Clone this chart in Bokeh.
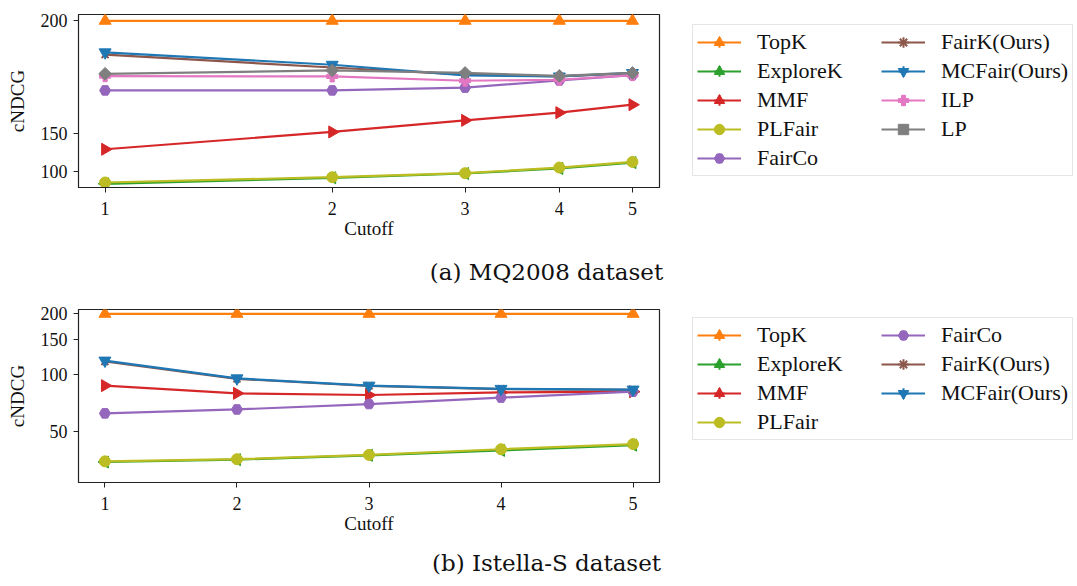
import numpy as np
from bokeh.plotting import figure
from bokeh.models import (Range1d, FixedTicker, CustomJSTickFormatter, PrintfTickFormatter,
                          Legend, LegendItem, Label)
from bokeh.layouts import column, row
from bokeh.embed import file_html
from bokeh.resources import INLINE

# ---------------- data ----------------
cutoffs = [1, 2, 3, 4, 5]

# (a) MQ2008
mq_names = ["TopK", "ExploreK", "MMF", "PLFair", "FairCo", "FairK(Ours)", "MCFair(Ours)", "ILP", "LP"]
mq_topk = [200, 200, 200, 200, 200]
mq_explorek = [77.0, 89.0, 97.0, 105.7, 115.0]
mq_mmf = [133.1, 151.6, 161.4, 167.0, 172.1]
mq_plfair = [79.7, 90.2, 97.6, 107.2, 116.0]
mq_fairco = [179.8, 179.8, 181.1, 184.2, 186.3]
mq_fairk = [192.9, 189.0, 186.5, 185.8, 187.0]
mq_mcfair = [193.5, 189.9, 186.2, 185.8, 187.1]
mq_ilp = [185.9, 185.8, 184.1, 184.5, 186.3]
mq_lp = [186.8, 188.0, 187.1, 186.0, 187.1]
mq_yticks = [100, 150, 200]

# (b) Istella-S
is_names = ["TopK", "ExploreK", "MMF", "PLFair", "FairCo", "FairK(Ours)", "MCFair(Ours)"]
is_topk = [200, 200, 200, 200, 200]
is_explorek = [33.3, 34.4, 36.5, 39.0, 41.8]
is_mmf = [87.7, 80.0, 78.4, 80.9, 81.6]
is_plfair = [33.6, 34.6, 36.7, 39.6, 42.4]
is_fairco = [62.7, 65.8, 70.3, 76.0, 81.6]
is_fairk = [116.5, 95.0, 87.5, 84.2, 83.3]
is_mcfair = [117.6, 95.6, 87.7, 84.4, 83.7]
is_yticks = [50, 100, 150, 200]

captions = ["(a) MQ2008 dataset", "(b) Istella-S dataset"]

# ---------------- styles ----------------
STYLE = {
    "TopK": ("#ff7f0e", "triangle", 0.0, 12),
    "ExploreK": ("#2ca02c", "triangle", np.pi / 2, 12),
    "MMF": ("#d62728", "triangle", -np.pi / 2, 12),
    "PLFair": ("#bcbd22", "circle", 0.0, 11),
    "FairCo": ("#9467bd", "hex", 0.0, 11),
    "FairK(Ours)": ("#8c564b", "x", 0.0, 10),
    "MCFair(Ours)": ("#1f77b4", "inverted_triangle", 0.0, 12),
    "ILP": ("#e377c2", "plus", 0.0, 11),
    "LP": ("#7f7f7f", "square", np.pi / 4, 9),
}

SERIF = "Liberation Serif"
W = 1077
MAIN_W = 680
LEG_W = W - MAIN_W
FRAME_L, FRAME_R = 78, 659
FRAME_H = 173


def draw_series(fig, name, vals, fwd, errbar=False):
    color, marker, angle, size = STYLE[name]
    ty = fwd(vals)
    rs = [fig.line(cutoffs, ty, line_color=color, line_width=2.2)]
    if errbar:
        rs.append(fig.scatter(cutoffs, ty, marker="cross", size=22, line_color=color,
                              line_width=2))
    if marker == "x":
        rs.append(fig.scatter(cutoffs, ty, marker=marker, size=size, angle=angle,
                              line_color=color, line_width=2))
    else:
        rs.append(fig.scatter(cutoffs, ty, marker=marker, size=size, angle=angle,
                              fill_color=color, line_color=color, line_width=1))
    return rs


def make_panel(names, values, fwd, js_inv, yticks, ylims, xlog, xlims,
               height, top, legend_loc, padding):
    yr = Range1d(float(fwd(ylims[0])), float(fwd(ylims[1])))
    p = figure(width=MAIN_W, height=height, x_axis_type="log" if xlog else "linear",
               x_range=Range1d(*xlims), y_range=yr,
               output_backend="svg", toolbar_location=None,
               min_border_left=FRAME_L, min_border_right=MAIN_W - FRAME_R,
               min_border_top=top, min_border_bottom=height - top - FRAME_H)
    p.grid.visible = False
    p.outline_line_color = "#222222"
    p.outline_line_alpha = 1
    p.outline_line_width = 1.2

    for ax in (p.xaxis, p.yaxis):
        ax.axis_line_color = "#222222"
        ax.major_tick_line_color = "#222222"
        ax.major_tick_out = 5
        ax.major_tick_in = 0
        ax.minor_tick_out = 0
        ax.minor_tick_in = 0
        ax.major_label_text_font = SERIF
        ax.major_label_text_font_size = "18px"
        ax.major_label_text_color = "#111111"
        ax.axis_label_text_font = SERIF
        ax.axis_label_text_font_size = "19px"
        ax.axis_label_text_font_style = "normal"
        ax.axis_label_text_color = "#111111"

    p.xaxis.ticker = FixedTicker(ticks=cutoffs, minor_ticks=[])
    p.xaxis.formatter = PrintfTickFormatter(format="%d")
    p.xaxis.axis_label = "Cutoff"
    p.xaxis.major_label_standoff = 9
    p.xaxis.axis_label_standoff = 0

    p.yaxis.ticker = FixedTicker(ticks=[float(fwd(t)) for t in yticks], minor_ticks=[])
    p.yaxis.formatter = CustomJSTickFormatter(code=js_inv)
    p.yaxis.axis_label = "cNDCG"
    p.yaxis.major_label_standoff = 6
    p.yaxis.axis_label_standoff = 10

    for name, vals in zip(names, values):
        draw_series(p, name, vals, fwd)

    # legend figure: same series, kept outside its (empty) view, used only for the legend
    lf = figure(width=LEG_W, height=height, x_range=Range1d(-30, -20), y_range=Range1d(0, 1),
                output_backend="svg", toolbar_location=None,
                x_axis_location=None, y_axis_location=None,
                min_border=0, min_border_left=0, min_border_right=0,
                min_border_top=0, min_border_bottom=0)
    lf.grid.visible = False
    lf.outline_line_color = None
    items = []
    for name, vals in zip(names, values):
        rs = draw_series(lf, name, vals, fwd, errbar=True)
        items.append(LegendItem(label=name, renderers=rs))
    leg = Legend(items=items, location=legend_loc, ncols=2, orientation="vertical",
                 label_text_font=SERIF, label_text_font_size="22px",
                 label_text_color="#111111",
                 glyph_width=44, glyph_height=26, label_standoff=16, spacing=3,
                 padding=padding, margin=0, label_width=121,
                 border_line_color="#cccccc", border_line_width=1.2,
                 background_fill_color="white", background_fill_alpha=1)
    lf.add_layout(leg, "center")
    return row(p, lf, spacing=0)


def make_caption(text, height, y_from_bottom):
    c = figure(width=W, height=height, x_range=Range1d(0, W), y_range=Range1d(0, height),
               output_backend="svg", toolbar_location=None,
               x_axis_location=None, y_axis_location=None,
               min_border=0, min_border_left=0, min_border_right=0,
               min_border_top=0, min_border_bottom=0)
    c.grid.visible = False
    c.outline_line_color = None
    c.add_layout(Label(x=546, y=y_from_bottom, x_units="screen", y_units="screen", text=text,
                       text_align="center", text_baseline="middle",
                       text_font="DejaVu Serif", text_font_size="23px",
                       text_color="#111111"))
    return c


def fwd_mq(y):
    return -np.log(210.0 - np.asarray(y, dtype=float))


def fwd_is(y):
    return np.log(np.asarray(y, dtype=float) + 10.0)


r1 = make_panel(mq_names,
                [mq_topk, mq_explorek, mq_mmf, mq_plfair, mq_fairco, mq_fairk, mq_mcfair, mq_ilp, mq_lp],
                fwd_mq, "return (210 - Math.exp(-tick)).toFixed(0);",
                mq_yticks, (68.9, 200.95), True, (0.922, 5.43),
                250, 14, (12, 11.5), 4)
c1 = make_caption(captions[0], 43, 22)

r2 = make_panel(is_names,
                [is_topk, is_explorek, is_mmf, is_plfair, is_fairco, is_fairk, is_mcfair],
                fwd_is, "return (Math.exp(tick) - 10).toFixed(0);",
                is_yticks, (24.8, 209.9), False, (0.8, 5.2),
                254, 16, (12, 42), 4)
c2 = make_caption(captions[1], 39, 24)

layout = column(r1, c1, r2, c2, spacing=0)
open("out.html", "w").write(file_html(layout, INLINE))
